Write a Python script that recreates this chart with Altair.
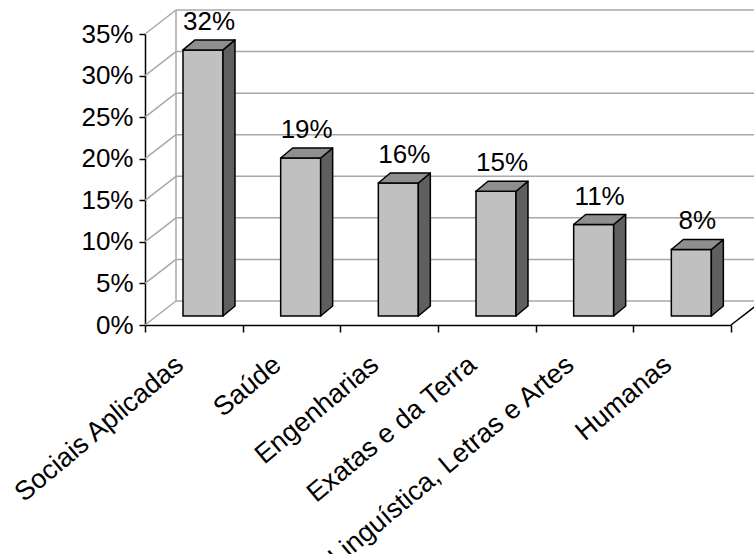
import json

import altair as alt
import pandas as pd

# ---- data -------------------------------------------------------------
categories = [
    "Sociais Aplicadas",
    "Saúde",
    "Engenharias",
    "Exatas e da Terra",
    "Linguística, Letras e Artes",
    "Humanas",
]
shares = [32, 19, 16, 15, 11, 8]
y_ticks = [0, 5, 10, 15, 20, 25, 30, 35]

# ---- geometry of the pseudo-3D box (pixels) ----------------------------
W, H = 586, 291
N = len(categories)
Y_MAX = 35
PX_X = W / N
PX_Y = H / Y_MAX

WALL_DX, WALL_DY = 31, 24      # depth of the floor / side wall
BAR_LEFT, BAR_W = 38, 40       # front face position inside each category
BAR_DX, BAR_DY = 12, 10        # depth of each column
BAR_LIFT = 9                   # columns stand a little behind the front edge


def ux(px):
    return px / PX_X


def uy(px):
    return px / PX_Y


FONT = "Liberation Sans"
FONT_SIZE = 26
GRID = "#a8a8a8"

# ---- tables built from the data ---------------------------------------
front_rows, side_rows, top_rows, label_rows = [], [], [], []
for i, (cat, v) in enumerate(zip(categories, shares)):
    x0 = i + ux(BAR_LEFT)
    x1 = x0 + ux(BAR_W)
    y0 = uy(BAR_LIFT)
    y1 = v + uy(BAR_LIFT)
    front_rows.append({"cat": cat, "x0": x0, "x1": x1, "y0": y0, "y1": y1})
    side_rows += [
        {"cat": cat, "x": x1, "lo": y0, "hi": y1},
        {"cat": cat, "x": x1 + ux(BAR_DX), "lo": y0 + uy(BAR_DY), "hi": y1 + uy(BAR_DY)},
    ]
    top_rows += [
        {"cat": cat, "y": y1, "xa": x0, "xb": x1},
        {"cat": cat, "y": y1 + uy(BAR_DY), "xa": x0 + ux(BAR_DX), "xb": x1 + ux(BAR_DX)},
    ]
    label_rows.append({
        "cat": cat,
        "x": i + ux(BAR_LEFT + (BAR_W + BAR_DX) / 2),
        "y": y1,
        "text": f"{v}%",
    })

wall_rows = []
for k in y_ticks:
    # gridline on the back wall
    wall_rows.append({"x": ux(WALL_DX), "x2": N + ux(WALL_DX),
                      "y": k + uy(WALL_DY), "y2": k + uy(WALL_DY)})
    # diagonal on the side wall
    wall_rows.append({"x": 0, "x2": ux(WALL_DX), "y": k, "y2": k + uy(WALL_DY)})
# back-left edge of the box
wall_rows.append({"x": ux(WALL_DX), "x2": ux(WALL_DX),
                  "y": uy(WALL_DY), "y2": Y_MAX + uy(WALL_DY)})
floor_edge = [{"x": N, "x2": N + ux(WALL_DX), "y": 0, "y2": uy(WALL_DY)}]

front = pd.DataFrame(front_rows)
side = pd.DataFrame(side_rows)
top = pd.DataFrame(top_rows)
labels = pd.DataFrame(label_rows)
walls = pd.DataFrame(wall_rows)
floor = pd.DataFrame(floor_edge)

# ---- scales & axes ----------------------------------------------------
xs = alt.Scale(domain=[0, N], nice=False, zero=False)
ys = alt.Scale(domain=[0, Y_MAX], nice=False, zero=False)

names_js = json.dumps(categories, ensure_ascii=False)
x_axis = alt.Axis(
    values=list(range(N + 1)),
    labelExpr=f"{names_js}[datum.value] || ''",
    labelAngle=320,
    labelAlign="right",
    labelBaseline="top",
    labelOffset=26,
    labelPadding=19,
    labelFont=FONT,
    labelFontSize=27,
    labelColor="black",
    labelLimit=0,
    labelOverlap=False,
    labelFlush=False,
    labelBound=False,
    tickSize=7,
    tickColor="black",
    tickWidth=1.5,
    domainColor="black",
    domainWidth=1.5,
    grid=False,
    title=None,
)
y_axis = alt.Axis(
    values=y_ticks,
    labelExpr="datum.value + '%'",
    labelFont=FONT,
    labelFontSize=FONT_SIZE,
    labelColor="black",
    labelPadding=6,
    labelFlush=False,
    labelOverlap=False,
    tickSize=6,
    tickColor="black",
    tickWidth=1.5,
    domainColor="black",
    domainWidth=1.5,
    grid=False,
    title=None,
)


def X(field):
    return alt.X(field, type="quantitative", scale=xs, axis=x_axis)


def Y(field):
    return alt.Y(field, type="quantitative", scale=ys, axis=y_axis)


# ---- layers -----------------------------------------------------------
wall_layer = alt.Chart(walls).mark_rule(color=GRID, strokeWidth=1.5).encode(
    x=X("x"), x2="x2", y=Y("y"), y2="y2"
)
floor_layer = alt.Chart(floor).mark_rule(color="black", strokeWidth=1.5).encode(
    x=X("x"), x2="x2", y=Y("y"), y2="y2"
)
front_layer = alt.Chart(front).mark_rect(
    color="#c0c0c0", stroke="black", strokeWidth=1.5
).encode(x=X("x0"), x2="x1", y=Y("y0"), y2="y1")
side_layer = alt.Chart(side).mark_area(
    orient="vertical", color="#5f5f5f", stroke="black", strokeWidth=1.5,
    interpolate="linear", strokeJoin="round"
).encode(x=X("x"), y=Y("lo"), y2="hi", detail="cat:N")
top_layer = alt.Chart(top).mark_area(
    orient="horizontal", color="#8f8f8f", stroke="black", strokeWidth=1.5,
    interpolate="linear", strokeJoin="round"
).encode(y=Y("y"), x=X("xa"), x2="xb", detail="cat:N")
label_layer = alt.Chart(labels).mark_text(
    font=FONT, fontSize=FONT_SIZE, color="black", align="center", baseline="middle", dy=-28
).encode(x=X("x"), y=Y("y"), text="text:N")

chart = (
    alt.layer(wall_layer, floor_layer, front_layer, side_layer, top_layer, label_layer)
    .properties(
        width=W,
        height=H,
        padding={"left": 145, "top": 34, "right": 754 - 145 - W, "bottom": 554 - 34 - H},
        autosize=alt.AutoSizeParams(type="none"),
        background="white",
    )
    .configure_view(stroke=None)
)

chart.save("out.html", embed_options={"renderer": "svg", "actions": False})
